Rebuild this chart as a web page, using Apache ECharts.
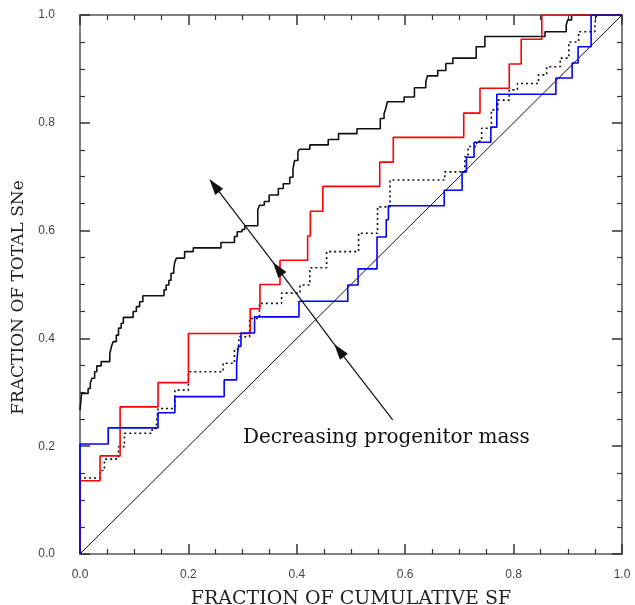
<!DOCTYPE html>
<html>
<head>
<meta charset="utf-8">
<script src="https://cdn.jsdelivr.net/npm/echarts@6/dist/echarts.min.js"></script>
<style>
  html, body { margin: 0; padding: 0; background: #fff; }
  #chart { width: 635px; height: 605px; }
</style>
</head>
<body>
<div id="chart"></div>
<script>
// step curves: x = fraction of cumulative SF where the step happens, y = value after the step
var blackX = [0, 0.003, 0.015, 0.019, 0.022, 0.027, 0.031, 0.039, 0.055, 0.058, 0.061, 0.067, 0.071, 0.076, 0.08, 0.098, 0.104, 0.11, 0.116, 0.155, 0.159, 0.164, 0.168, 0.173, 0.175, 0.178, 0.193, 0.209, 0.26, 0.285, 0.29, 0.299, 0.304, 0.328, 0.331, 0.34, 0.349, 0.366, 0.375, 0.387, 0.393, 0.396, 0.402, 0.405, 0.424, 0.458, 0.477, 0.511, 0.554, 0.561, 0.564, 0.567, 0.598, 0.617, 0.638, 0.641, 0.66, 0.675, 0.688, 0.731, 0.747, 0.858, 0.897, 0.9, 0.907, 1];
var blackY = [0.267, 0.298, 0.307, 0.317, 0.326, 0.338, 0.349, 0.357, 0.372, 0.385, 0.394, 0.406, 0.419, 0.428, 0.439, 0.45, 0.459, 0.468, 0.479, 0.49, 0.499, 0.508, 0.521, 0.53, 0.542, 0.549, 0.561, 0.568, 0.578, 0.589, 0.598, 0.602, 0.609, 0.638, 0.647, 0.654, 0.666, 0.678, 0.687, 0.699, 0.715, 0.73, 0.746, 0.751, 0.759, 0.769, 0.78, 0.789, 0.808, 0.817, 0.826, 0.839, 0.848, 0.865, 0.876, 0.887, 0.897, 0.91, 0.92, 0.941, 0.96, 0.969, 0.981, 0.991, 1.0, 1.0];

var redX = [0, 0, 0.037, 0.074, 0.144, 0.2, 0.314, 0.332, 0.369, 0.42, 0.425, 0.448, 0.553, 0.578, 0.708, 0.738, 0.792, 0.814, 0.852, 1];
var redY = [0, 0.136, 0.182, 0.273, 0.318, 0.409, 0.455, 0.5, 0.545, 0.59, 0.636, 0.682, 0.727, 0.773, 0.818, 0.864, 0.909, 0.955, 1, 1];

var dotX = [0, 0, 0.037, 0.045, 0.071, 0.082, 0.133, 0.141, 0.144, 0.175, 0.2, 0.264, 0.285, 0.293, 0.313, 0.331, 0.372, 0.406, 0.424, 0.455, 0.514, 0.549, 0.572, 0.673, 0.71, 0.716, 0.732, 0.741, 0.759, 0.771, 0.792, 0.807, 0.846, 0.861, 0.886, 0.902, 0.92, 0.95, 0.953, 1];
var dotY = [0, 0.141, 0.155, 0.176, 0.199, 0.224, 0.233, 0.243, 0.27, 0.304, 0.338, 0.354, 0.38, 0.403, 0.437, 0.465, 0.484, 0.499, 0.531, 0.561, 0.595, 0.644, 0.694, 0.709, 0.737, 0.756, 0.766, 0.79, 0.824, 0.842, 0.861, 0.873, 0.889, 0.904, 0.92, 0.95, 0.969, 0.984, 1.0, 1.0];

var blueX = [0, 0, 0.052, 0.144, 0.175, 0.266, 0.289, 0.292, 0.297, 0.322, 0.404, 0.494, 0.513, 0.548, 0.565, 0.569, 0.672, 0.705, 0.713, 0.727, 0.758, 0.769, 0.878, 0.908, 0.919, 0.943, 1];
var blueY = [0, 0.204, 0.234, 0.262, 0.292, 0.323, 0.354, 0.385, 0.41, 0.44, 0.469, 0.499, 0.529, 0.588, 0.62, 0.646, 0.675, 0.709, 0.736, 0.764, 0.792, 0.853, 0.883, 0.911, 0.941, 1.0, 1.0];

// one-to-one line
var diagX = [0, 1];
var diagY = [0, 1];

// arrow: tail first, then the tips of the three heads (all pointing up-left)
var arrowPts = [[0.577, 0.249], [0.47, 0.388], [0.357, 0.54], [0.24, 0.694]];
var arrowText = 'Decreasing progenitor mass';

function pairs(xs, ys) {
  return xs.map(function (x, i) { return [x, ys[i]]; });
}

var chart = echarts.init(document.getElementById('chart'));

var serif = 'DejaVu Serif';
var frame = '#555';
var plotW = 635 - 80 - 13, plotH = 605 - 15 - 51;

function axisBase(pos, showLabel) {
  return {
    type: 'value',
    position: pos,
    min: 0,
    max: 1,
    interval: 0.2,
    axisLine: { show: true, onZero: false, lineStyle: { color: frame, width: 1.5 } },
    axisTick: { show: true, inside: true, length: 10, lineStyle: { color: '#333', width: 1.5 } },
    minorTick: { show: true, splitNumber: 4, length: 5, lineStyle: { color: '#333', width: 1.2 } },
    splitLine: { show: false },
    axisLabel: {
      show: showLabel,
      color: '#444',
      fontSize: 12,
      fontFamily: 'Liberation Sans',
      formatter: function (v) { return v.toFixed(1); }
    }
  };
}

var xMain = axisBase('bottom', true);
xMain.axisLabel.margin = 15;
xMain.name = 'FRACTION OF CUMULATIVE SF';
xMain.nameLocation = 'middle';
xMain.nameGap = 36;
xMain.nameTextStyle = { fontFamily: serif, fontSize: 19, color: '#222' };

var yMain = axisBase('left', true);
yMain.axisLabel.margin = 25;
yMain.name = 'FRACTION OF TOTAL SNe';
yMain.nameLocation = 'middle';
yMain.nameGap = 45;
yMain.nameTextStyle = { fontFamily: serif, fontSize: 17, color: '#222', padding: [0, 26, 0, 0] };

var xTop = axisBase('top', false);
var yRight = axisBase('right', false);

// shaft pieces and heads
var arrowSegs = [];
var heads = [];
for (var i = 0; i < arrowPts.length - 1; i++) {
  var a = arrowPts[i], b = arrowPts[i + 1];
  arrowSegs.push([a, b]);
  var dx = (b[0] - a[0]) * plotW, dy = (b[1] - a[1]) * plotH;
  var len = Math.sqrt(dx * dx + dy * dy);
  var ang = Math.atan2(dy, dx) * 180 / Math.PI;
  // centre of the head sits 7px behind the tip
  heads.push({
    value: [b[0] - dx / len * 7 / plotW, b[1] - dy / len * 7 / plotH],
    symbolRotate: ang - 90
  });
}

function stepLine(name, xs, ys, color, type, width) {
  return {
    name: name,
    type: 'line',
    step: 'end',
    data: pairs(xs, ys),
    showSymbol: false,
    symbol: 'none',
    silent: true,
    lineStyle: { color: color, width: width, type: type },
    z: 3
  };
}

var series = [
  {
    name: 'one-to-one',
    type: 'line',
    data: pairs(diagX, diagY),
    showSymbol: false,
    symbol: 'none',
    silent: true,
    lineStyle: { color: '#111', width: 1 },
    z: 2
  },
  stepLine('black', blackX, blackY, '#111', 'solid', 1.6),
  stepLine('dotted', dotX, dotY, '#111', [2, 3], 1.6),
  stepLine('red', redX, redY, '#ff0000', 'solid', 1.6),
  stepLine('blue', blueX, blueY, '#0000ff', 'solid', 1.6)
];
arrowSegs.forEach(function (seg) {
  series.push({
    type: 'line',
    data: seg,
    showSymbol: false,
    symbol: 'none',
    silent: true,
    lineStyle: { color: '#111', width: 1.2 },
    z: 4
  });
});
series.push({
  name: 'heads',
  type: 'scatter',
  data: heads,
  symbol: 'triangle',
  symbolSize: [10, 16],
  silent: true,
  itemStyle: { color: '#111', opacity: 1 },
  z: 5
});

var option = {
  animation: false,
  backgroundColor: '#fff',
  grid: { left: 80, right: 13, top: 15, bottom: 51, outerBoundsMode: 'none' },
  xAxis: [xMain, xTop],
  yAxis: [yMain, yRight],
  series: series,
  graphic: [
    {
      type: 'text',
      left: 243,
      top: 428,
      style: {
        text: arrowText,
        font: '20px "DejaVu Serif"',
        fill: '#111'
      }
    }
  ]
};

chart.setOption(option);
</script>
</body>
</html>
